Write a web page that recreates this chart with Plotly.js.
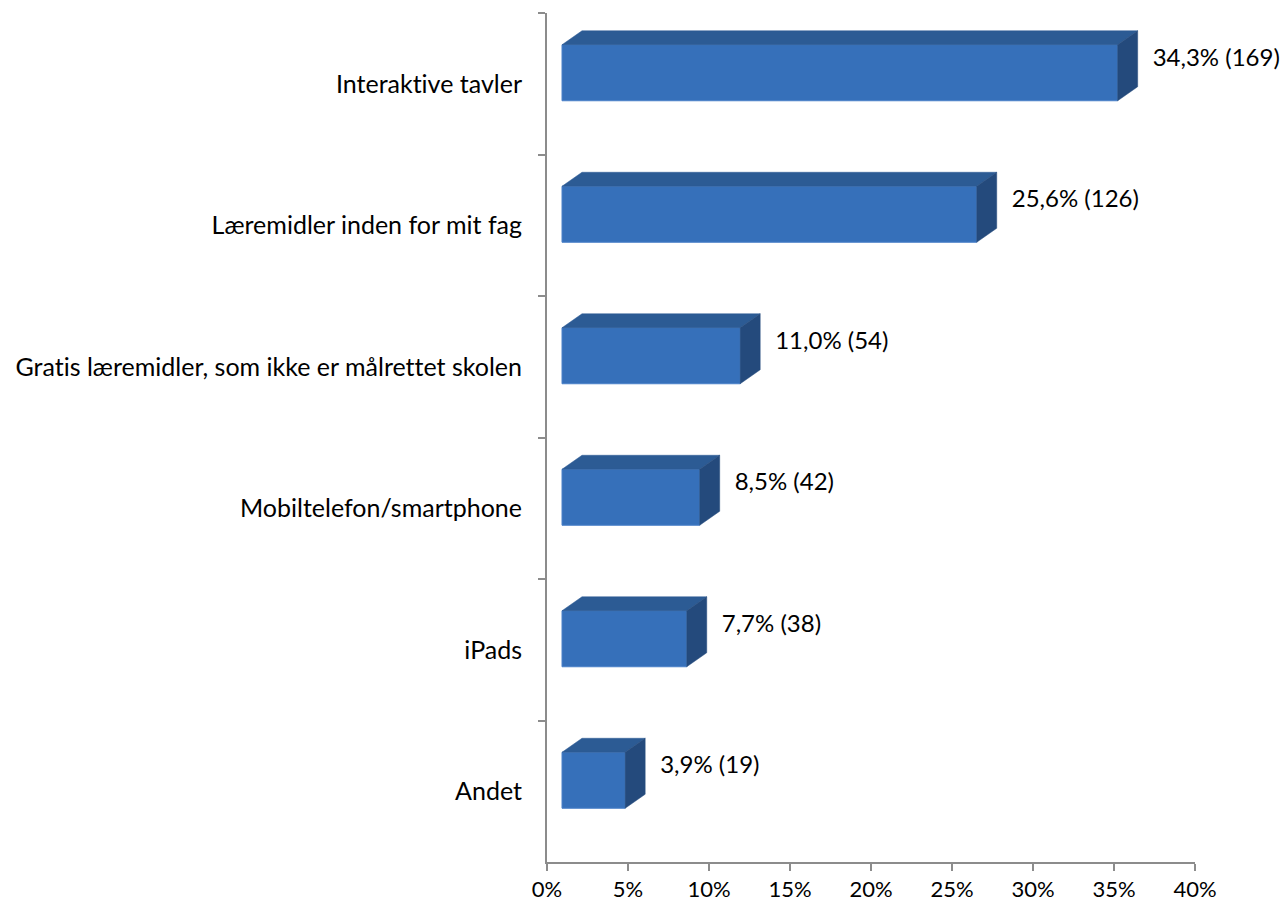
<!DOCTYPE html>
<html>
<head>
<meta charset="utf-8">
<script src="https://cdn.plot.ly/plotly-3.0.1.min.js"></script>
<style>
  html, body { margin: 0; padding: 0; background: #ffffff; }
  #chart { width: 1285px; height: 904px; }
  #chart text { font-variant-ligatures: none; font-feature-settings: "liga" 0, "clig" 0; }
</style>
</head>
<body>
<div id="chart"></div>
<script>
// ---- data ----
const categories = [
  'Interaktive tavler',
  'Læremidler inden for mit fag',
  'Gratis læremidler, som ikke er målrettet skolen',
  'Mobiltelefon/smartphone',
  'iPads',
  'Andet'
];
const percents = [34.3, 25.6, 11.0, 8.5, 7.7, 3.9];
const counts = [169, 126, 54, 42, 38, 19];
const xTickVals = [0, 5, 10, 15, 20, 25, 30, 35, 40];
const xTickText = ['0%', '5%', '10%', '15%', '20%', '25%', '30%', '35%', '40%'];

// ---- layout / style constants ----
const W = 1285, H = 904;
const PLOT_L = 547, PLOT_R = 1195, PLOT_T = 13, PLOT_B = 862;
const X_MAX = 40;
const pxPerX = (PLOT_R - PLOT_L) / X_MAX;
const bandPx = (PLOT_B - PLOT_T) / categories.length;
const FRONT_OFFSET_PX = 15;          // 3-D floor offset of the bar fronts
const BAR_SHIFT = 11 / bandPx;       // bars sit a little above the band centre
const BAR_W = 56 / bandPx;           // front face thickness
const DX = 20 / pxPerX;              // depth, horizontal
const DY = 14 / bandPx;              // depth, vertical
const LABEL_SHIFT = 13 / bandPx;
const LABEL_GAP = 15 / pxPerX;

const FONT = 'Lato, "Open Sans", sans-serif';
const FONT_SIZE = 25;
const FRONT_COLOR = '#3670BA';
const TOP_COLOR = '#2C5B94';
const SIDE_COLOR = '#244A7C';
const AXIS_COLOR = '#8C8C8C';

const idx = categories.map((c, i) => i);

// polygons for the 3-D faces, derived from the data
const topX = [], topY = [], sideX = [], sideY = [];
percents.forEach((v, i) => {
  const yc = i - BAR_SHIFT;
  const yTop = yc - BAR_W / 2, yBot = yc + BAR_W / 2;
  topX.push(0, v, v + DX, DX, 0, null);
  topY.push(yTop, yTop, yTop - DY, yTop - DY, yTop, null);
  sideX.push(v, v + DX, v + DX, v, v, null);
  sideY.push(yTop, yTop - DY, yBot - DY, yBot, yTop, null);
});

const labelText = percents.map((v, i) =>
  v.toFixed(1).replace('.', ',') + '% (' + counts[i] + ')');

const traces = [
  // category holder for the visible axes
  {
    type: 'scatter', x: percents, y: categories, xaxis: 'x', yaxis: 'y',
    mode: 'markers', marker: { opacity: 0, size: 1 },
    hoverinfo: 'skip', showlegend: false
  },
  // front faces
  {
    type: 'bar', orientation: 'h', x: percents,
    y: idx.map(i => i - BAR_SHIFT), width: BAR_W,
    xaxis: 'x2', yaxis: 'y2',
    marker: { color: FRONT_COLOR, line: { color: '#4A80C8', width: 1 } },
    hoverinfo: 'skip', showlegend: false
  },
  // top faces
  {
    type: 'scatter', x: topX, y: topY, xaxis: 'x2', yaxis: 'y2',
    mode: 'lines', fill: 'toself', fillcolor: TOP_COLOR,
    line: { width: 0.5, color: TOP_COLOR }, connectgaps: false,
    hoverinfo: 'skip', showlegend: false
  },
  // side faces
  {
    type: 'scatter', x: sideX, y: sideY, xaxis: 'x2', yaxis: 'y2',
    mode: 'lines', fill: 'toself', fillcolor: SIDE_COLOR,
    line: { width: 0.5, color: SIDE_COLOR }, connectgaps: false,
    hoverinfo: 'skip', showlegend: false
  },
  // value labels
  {
    type: 'scatter', mode: 'text',
    x: percents.map(v => v + DX + LABEL_GAP),
    y: idx.map(i => i - BAR_SHIFT - LABEL_SHIFT),
    text: labelText, textposition: 'middle right',
    textfont: { family: FONT, size: 24, color: '#000000' },
    xaxis: 'x2', yaxis: 'y2', hoverinfo: 'skip', showlegend: false,
    cliponaxis: false
  }
];

const layout = {
  width: W, height: H,
  margin: { l: PLOT_L, r: W - PLOT_R, t: PLOT_T, b: H - PLOT_B, pad: 0 },
  paper_bgcolor: '#ffffff', plot_bgcolor: 'rgba(0,0,0,0)',
  showlegend: false,
  font: { family: FONT, size: FONT_SIZE, color: '#000000' },
  xaxis: {
    type: 'linear', range: [0, X_MAX],
    tickvals: xTickVals, ticktext: xTickText,
    showgrid: false, zeroline: false,
    showline: true, linecolor: AXIS_COLOR, linewidth: 2,
    ticks: 'outside', ticklen: 7, tickwidth: 2, tickcolor: AXIS_COLOR,
    ticklabelstandoff: 0,
    tickfont: { family: FONT, size: 22, color: '#000000' },
    fixedrange: true
  },
  yaxis: {
    type: 'category', categoryarray: categories, categoryorder: 'array',
    range: [categories.length - 0.5, -0.5],
    tickson: 'boundaries',
    showgrid: false, zeroline: false,
    showline: true, linecolor: AXIS_COLOR, linewidth: 2,
    ticks: 'outside', ticklen: 7, tickwidth: 2, tickcolor: AXIS_COLOR,
    ticklabelstandoff: 18,
    tickfont: { family: FONT, size: FONT_SIZE, color: '#000000' },
    fixedrange: true
  },
  xaxis2: {
    overlaying: 'x', type: 'linear',
    range: [-FRONT_OFFSET_PX / pxPerX, X_MAX - FRONT_OFFSET_PX / pxPerX],
    visible: false, fixedrange: true
  },
  yaxis2: {
    overlaying: 'y', type: 'linear',
    range: [categories.length - 0.5, -0.5],
    visible: false, fixedrange: true
  }
};

Plotly.newPlot('chart', traces, layout, { displayModeBar: false, staticPlot: true });
</script>
</body>
</html>
